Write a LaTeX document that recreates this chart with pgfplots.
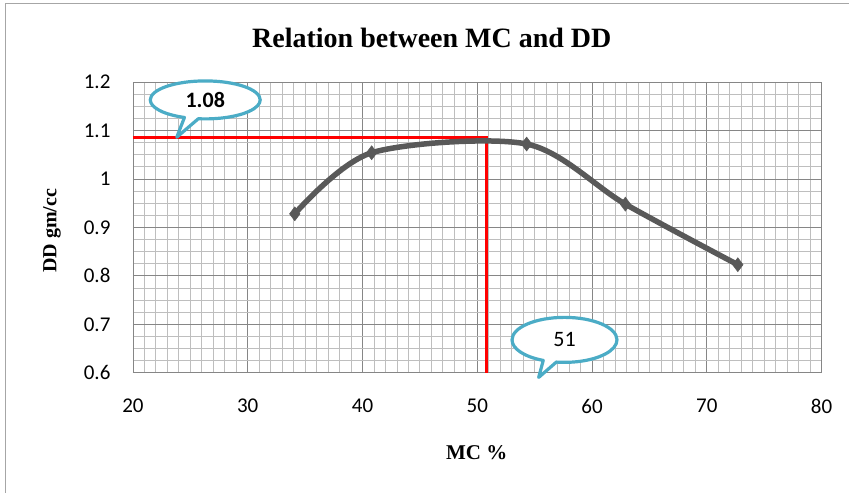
\documentclass[border=0pt]{standalone}
\usepackage{pgfplots}
\pgfplotsset{compat=1.18}
\usepackage{fontspec}
\setmainfont{Liberation Serif}
\newfontfamily\tickfont{Carlito}
\usetikzlibrary{shapes.callouts}
\definecolor{linegray}{RGB}{89,89,89}
\definecolor{callblue}{RGB}{75,172,198}
\definecolor{majgrid}{RGB}{134,134,134}
\definecolor{mingrid}{RGB}{190,190,190}
\begin{document}
\begin{tikzpicture}
\path (0,0) rectangle (849pt,493pt);
\draw[gray!70, line width=0.8pt] (5pt,0) -- (5pt,490pt) -- (849pt,490pt);
\node[font=\fontsize{28}{30}\selectfont\bfseries] at (432pt,455pt) {Relation between MC and DD};
\node[font=\fontsize{21}{24}\selectfont\bfseries] at (477pt,40pt) {MC \%};
\node[font=\fontsize{20}{24}\selectfont\bfseries, rotate=90] at (52pt,262pt) {DD gm/cc};
\begin{axis}[
  at={(133pt,120pt)}, anchor=south west,
  scale only axis, width=689pt, height=291pt,
  xmin=20, xmax=80, ymin=0.6, ymax=1.2,
  xtick={20,30,...,80}, ytick={0.6,0.7,...,1.2},
  minor x tick num=9, minor y tick num=3,
  grid=both,
  major grid style={majgrid, line width=0.8pt},
  minor grid style={mingrid, line width=0.8pt},
  axis line style={majgrid, line width=0.8pt},
  tick style={draw=none},
  ticklabel style={font=\tickfont\fontsize{21}{21}\selectfont},
  /pgf/number format/assume math mode=true,
  yticklabel style={/pgf/number format/fixed, /pgf/number format/precision=1, xshift=-19pt},
  xticklabel style={yshift=-23pt},
  clip=false,
]
\addplot[red, line width=3pt] coordinates {(20,1.086) (50.8,1.086) (50.8,0.6)};
\addplot[linegray, line width=5.5pt, smooth, tension=0.5, mark=diamond*, mark size=7pt, mark options={fill=linegray, line width=0.5pt}]
 coordinates {(34.1,0.928) (40.8,1.054) (54.3,1.072) (62.9,0.948) (72.7,0.823)};
\node[ellipse callout, draw=callblue, line width=3.2pt, line join=round, fill=white, minimum width=110pt, minimum height=38pt, inner sep=0pt, callout relative pointer={(-14.5pt,-19pt)}, font=\tickfont\fontsize{22}{22}\selectfont\bfseries] at (axis cs:26.3,1.163) {1.08};
\node[ellipse callout, draw=callblue, line width=3.2pt, line join=round, fill=white, minimum width=105pt, minimum height=45pt, inner sep=0pt, callout relative pointer={(-11pt,-16pt)}, font=\tickfont\fontsize{22}{22}\selectfont] at (axis cs:57.6,0.668) {51};
\end{axis}
\end{tikzpicture}
\end{document}
